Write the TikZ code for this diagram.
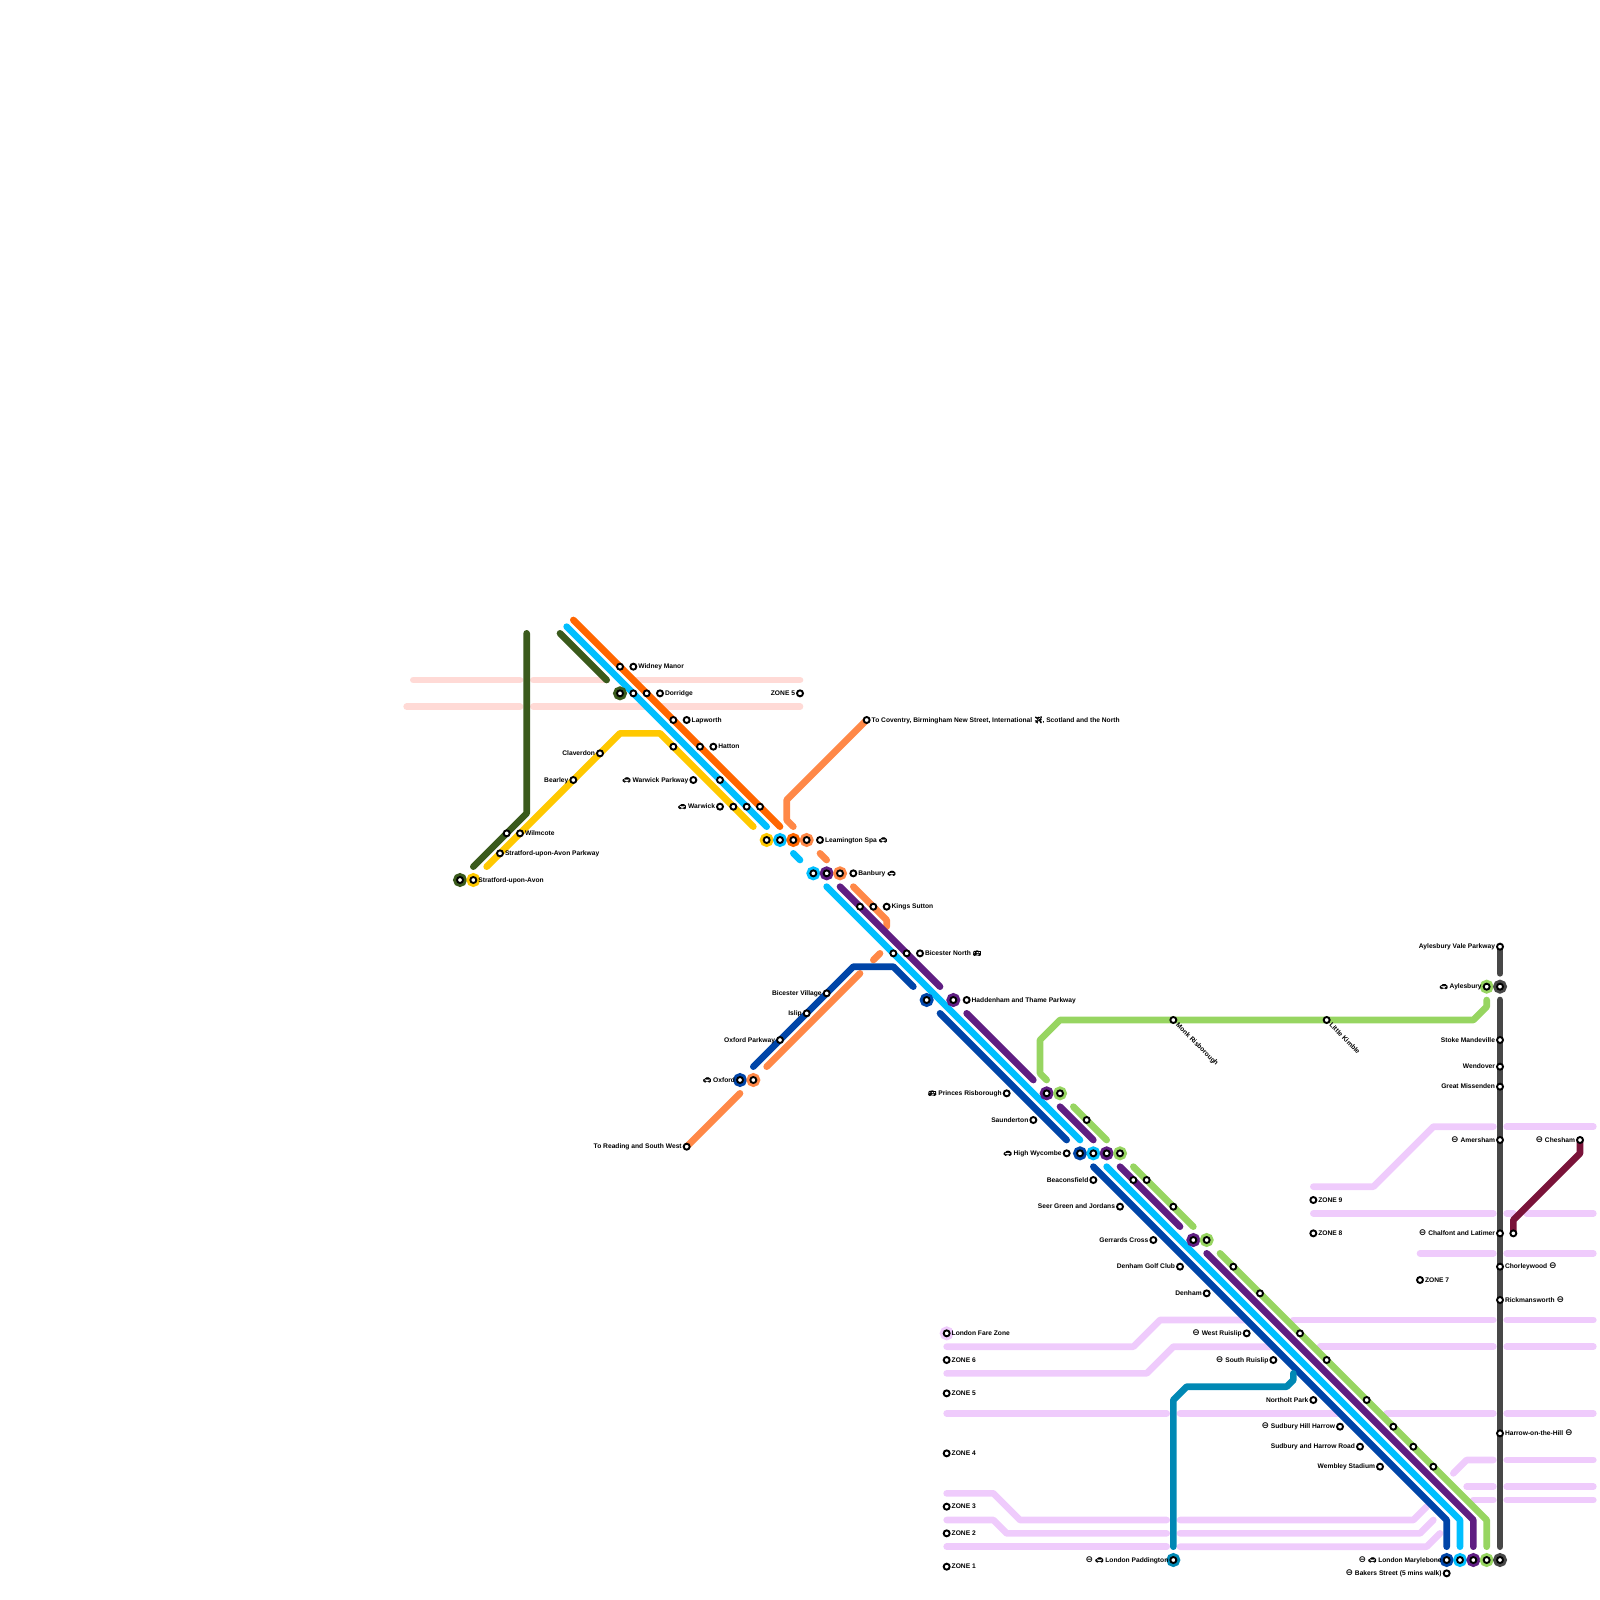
\documentclass[tikz,border=0pt]{standalone}
\usepackage{fontspec}
\setmainfont{Liberation Sans}
\newfontfamily\emojifont[FakeBold=3]{Noto Emoji}
\newfontfamily\symbfont{DejaVu Sans}
\newcommand{\tubeico}{{\fontsize{9}{8}\symbfont\bfseries\symbol{"2296}}}
\newcommand{\carico}{{\emojifont\mdseries\symbol{"1F697}}}
\newcommand{\busico}{{\emojifont\mdseries\symbol{"1F68C}}}
\newcommand{\planeico}{{\emojifont\mdseries\symbol{"2708}}}
\definecolor{zonepink}{HTML}{FFDAD6}
\definecolor{zonelilac}{HTML}{EFCBFC}
\definecolor{chilterngreen}{HTML}{3A5A1C}
\definecolor{solihullred}{HTML}{FF6600}
\definecolor{mainblue}{HTML}{00BFFF}
\definecolor{warwickyellow}{HTML}{FFC800}
\definecolor{crosscoral}{HTML}{FF8847}
\definecolor{wycombepurple}{HTML}{5F1E82}
\definecolor{oxfordblue}{HTML}{0045A8}
\definecolor{aylesburygreen}{HTML}{97D561}
\definecolor{metrogrey}{HTML}{474747}
\definecolor{cheshammaroon}{HTML}{7A1339}
\definecolor{paddingtonteal}{HTML}{0088B4}
\tikzset{
  zoneline/.style={line width=6.67pt,line cap=round,line join=round},
  route/.style={line width=6.67pt,line cap=round,line join=round},
  stn/.style={circle,draw=black,fill=white,line width=1.9pt,minimum size=6pt,inner sep=0pt,outer sep=0pt},
  hub/.style={stn,preaction={draw=#1,line width=7.6pt}},
  lbr/.style={font=\fontsize{6.67}{8}\selectfont\bfseries,inner sep=0pt,anchor=base west,xshift=4.8pt,yshift=-2.2pt},
  lbl/.style={font=\fontsize{6.67}{8}\selectfont\bfseries,inner sep=0pt,anchor=base east,xshift=-4.8pt,yshift=-2.2pt},
  lbd/.style={font=\fontsize{6.67}{8}\selectfont\bfseries,inner sep=0pt,anchor=base west,rotate=-45,xshift=5.5pt,yshift=-2.4pt}
}
\begin{document}
\begin{tikzpicture}[x=6.66667pt,y=-6.66667pt]
 \useasboundingbox (0,0) rectangle (240,240);
 \draw[zoneline,zonepink] (62,102) -- (78,102);
 \draw[zoneline,zonepink] (80,102) -- (91,102);
 \draw[zoneline,zonepink] (95,102) -- (120,102);
 \draw[zoneline,zonepink] (61,106) -- (78,106);
 \draw[zoneline,zonepink] (80,106) -- (97,106);
 \draw[zoneline,zonepink] (99,106) -- (120,106);
 \draw[zoneline,zonelilac] (142,202) -- (170,202) -- (174,198) -- (187,198);
 \draw[zoneline,zonelilac] (194,198) -- (224,198);
 \draw[zoneline,zonelilac] (226,198) -- (239,198);
 \draw[zoneline,zonelilac] (142,206) -- (172,206) -- (176,202) -- (191,202);
 \draw[zoneline,zonelilac] (198,202) -- (224,202);
 \draw[zoneline,zonelilac] (226,202) -- (239,202);
 \draw[zoneline,zonelilac] (142,212) -- (175,212);
 \draw[zoneline,zonelilac] (177,212) -- (201,212);
 \draw[zoneline,zonelilac] (208,212) -- (224,212);
 \draw[zoneline,zonelilac] (226,212) -- (239,212);
 \draw[zoneline,zonelilac] (142,224) -- (149,224) -- (153,228) -- (175,228);
 \draw[zoneline,zonelilac] (177,228) -- (212,228) -- (214,226);
 \draw[zoneline,zonelilac] (142,228) -- (149,228) -- (151,230) -- (175,230);
 \draw[zoneline,zonelilac] (177,230) -- (213,230) -- (215,228);
 \draw[zoneline,zonelilac] (142,232) -- (175,232);
 \draw[zoneline,zonelilac] (177,232) -- (214,232) -- (216,230);
 \draw[zoneline,zonelilac] (197,178) -- (206,178) -- (215,169) -- (224,169);
 \draw[zoneline,zonelilac] (226,169) -- (239,169);
 \draw[zoneline,zonelilac] (197,182) -- (224,182);
 \draw[zoneline,zonelilac] (226,182) -- (227,182);
 \draw[zoneline,zonelilac] (229,182) -- (239,182);
 \draw[zoneline,zonelilac] (213,188) -- (224,188);
 \draw[zoneline,zonelilac] (226,188) -- (239,188);
 \draw[zoneline,zonelilac] (218,221) -- (220,219) -- (224,219);
 \draw[zoneline,zonelilac] (226,219) -- (239,219);
 \draw[zoneline,zonelilac] (220,223) -- (224,223);
 \draw[zoneline,zonelilac] (226,223) -- (239,223);
 \draw[zoneline,zonelilac] (221,225) -- (224,225);
 \draw[zoneline,zonelilac] (226,225) -- (239,225);
 \draw[route,chilterngreen] (79,95) -- (79,122) -- (71,130);
 \draw[route,chilterngreen] (84,95) -- (91,102);
 \draw[route,solihullred] (86,93) -- (117,124);
 \draw[route,mainblue] (85,94) -- (115,124);
 \draw[route,mainblue] (119,128) -- (120,129);
 \draw[route,mainblue] (124,133) -- (162,171);
 \draw[route,mainblue] (166,175) -- (219,228) -- (219,232);
 \draw[route,warwickyellow] (73,130) -- (93,110) -- (99,110) -- (113,124);
 \draw[route,crosscoral] (130,108) -- (118,120) -- (118,123) -- (119,124);
 \draw[route,crosscoral] (123,128) -- (124,129);
 \draw[route,crosscoral] (128,133) -- (133,138) -- (133,139);
 \draw[route,crosscoral] (131,144) -- (132,143);
 \draw[route,crosscoral] (115,160) -- (129,146);
 \draw[route,crosscoral] (103,172) -- (111,164);
 \draw[route,oxfordblue] (113,160) -- (128,145) -- (134,145) -- (137,148);
 \draw[route,oxfordblue] (141,152) -- (160,171);
 \draw[route,oxfordblue] (164,175) -- (217,228) -- (217,232);
 \draw[route,wycombepurple] (126,133) -- (141,148);
 \draw[route,wycombepurple] (145,152) -- (155,162);
 \draw[route,wycombepurple] (159,166) -- (164,171);
 \draw[route,wycombepurple] (168,175) -- (177,184);
 \draw[route,wycombepurple] (181,188) -- (221,228) -- (221,232);
 \draw[route,aylesburygreen] (157,162) -- (156,161) -- (156,156) -- (159,153) -- (221,153) -- (223,151) -- (223,150);
 \draw[route,aylesburygreen] (161,166) -- (166,171);
 \draw[route,aylesburygreen] (170,175) -- (179,184);
 \draw[route,aylesburygreen] (183,188) -- (223,228) -- (223,232);
 \draw[route,metrogrey] (225,142) -- (225,146);
 \draw[route,metrogrey] (225,150) -- (225,232);
 \draw[route,cheshammaroon] (237,171) -- (237,173) -- (227,183) -- (227,185);
 \draw[route,paddingtonteal] (194,206) -- (194,207) -- (193,208) -- (178,208) -- (176,210) -- (176,232);
 \node[stn] (widneyo) at (93,100) {};
 \node[stn] (widney) at (95,100) {};
 \node[hub=chilterngreen] (dorridgeg) at (93,104) {};
 \node[stn] (dorridgec) at (95,104) {};
 \node[stn] (dorridgeo) at (97,104) {};
 \node[stn] (dorridge) at (99,104) {};
 \node[stn] (zonefivenorth) at (120,104) {};
 \node[stn] (lapwortho) at (101,108) {};
 \node[stn] (lapworth) at (103,108) {};
 \node[stn] (hattony) at (101,112) {};
 \node[stn] (hattono) at (105,112) {};
 \node[stn] (hatton) at (107,112) {};
 \node[stn] (claverdon) at (90,113) {};
 \node[stn] (bearley) at (86,117) {};
 \node[stn] (warparkway) at (104,117) {};
 \node[stn] (warparkwayc) at (108,117) {};
 \node[stn] (warwick) at (108,121) {};
 \node[stn] (warwicky) at (110,121) {};
 \node[stn] (warwickc) at (112,121) {};
 \node[stn] (warwicko) at (114,121) {};
 \node[stn] (wilmcoteg) at (76,125) {};
 \node[stn] (wilmcote) at (78,125) {};
 \node[stn] (stratparkway) at (75,128) {};
 \node[hub=chilterngreen] (stratfordg) at (69,132) {};
 \node[hub=warwickyellow] (stratford) at (71,132) {};
 \node[hub=warwickyellow] (leamy) at (115,126) {};
 \node[hub=mainblue] (leamc) at (117,126) {};
 \node[hub=solihullred] (leamo) at (119,126) {};
 \node[hub=crosscoral] (leamr) at (121,126) {};
 \node[stn] (leamington) at (123,126) {};
 \node[stn] (coventry) at (130,108) {};
 \node[hub=mainblue] (banburyc) at (122,131) {};
 \node[hub=wycombepurple] (banburyp) at (124,131) {};
 \node[hub=crosscoral] (banburyr) at (126,131) {};
 \node[stn] (banbury) at (128,131) {};
 \node[stn] (kingsc) at (129,136) {};
 \node[stn] (kingsp) at (131,136) {};
 \node[stn] (kings) at (133,136) {};
 \node[stn] (bicesterc) at (134,143) {};
 \node[stn] (bicesterp) at (136,143) {};
 \node[stn] (bicester) at (138,143) {};
 \node[stn] (village) at (124,149) {};
 \node[stn] (islip) at (121,152) {};
 \node[stn] (oxparkway) at (117,156) {};
 \node[hub=oxfordblue] (oxford) at (111,162) {};
 \node[hub=crosscoral] (oxfordr) at (113,162) {};
 \node[stn] (reading) at (103,172) {};
 \node[hub=oxfordblue] (haddenb) at (139,150) {};
 \node[hub=wycombepurple] (haddenp) at (143,150) {};
 \node[stn] (hadden) at (145,150) {};
 \node[stn] (princes) at (151,164) {};
 \node[hub=wycombepurple] (princesp) at (157,164) {};
 \node[hub=aylesburygreen] (princesg) at (159,164) {};
 \node[stn] (saunderton) at (155,168) {};
 \node[stn] (saundertong) at (163,168) {};
 \node[stn] (wycombe) at (160,173) {};
 \node[hub=oxfordblue] (wycombeb) at (162,173) {};
 \node[hub=mainblue] (wycombec) at (164,173) {};
 \node[hub=wycombepurple] (wycombep) at (166,173) {};
 \node[hub=aylesburygreen] (wycombeg) at (168,173) {};
 \node[stn] (beacons) at (164,177) {};
 \node[stn] (beaconsp) at (170,177) {};
 \node[stn] (beaconsg) at (172,177) {};
 \node[stn] (seer) at (168,181) {};
 \node[stn] (seerg) at (176,181) {};
 \node[stn] (gerrards) at (173,186) {};
 \node[hub=wycombepurple] (gerrardsp) at (179,186) {};
 \node[hub=aylesburygreen] (gerrardsg) at (181,186) {};
 \node[stn] (golfclub) at (177,190) {};
 \node[stn] (golfclubg) at (185,190) {};
 \node[stn] (denham) at (181,194) {};
 \node[stn] (denhamg) at (189,194) {};
 \node[stn] (monks) at (176,153) {};
 \node[stn] (kimble) at (199,153) {};
 \node[stn] (valeparkway) at (225,142) {};
 \node[hub=aylesburygreen] (aylesbury) at (223,148) {};
 \node[hub=metrogrey] (aylesburym) at (225,148) {};
 \node[stn] (stoke) at (225,156) {};
 \node[stn] (wendover) at (225,160) {};
 \node[stn] (missenden) at (225,163) {};
 \node[stn] (amersham) at (225,171) {};
 \node[stn] (chesham) at (237,171) {};
 \node[stn] (chalfont) at (225,185) {};
 \node[stn] (chalfontm) at (227,185) {};
 \node[stn] (chorleywood) at (225,190) {};
 \node[stn] (rickmansworth) at (225,195) {};
 \node[stn] (harrow) at (225,215) {};
 \node[stn] (zonenine) at (197,180) {};
 \node[stn] (zoneeight) at (197,185) {};
 \node[stn] (zoneseven) at (213,192) {};
 \node[hub=zonelilac] (farezone) at (142,200) {};
 \node[stn] (zonesix) at (142,204) {};
 \node[stn] (zonefive) at (142,209) {};
 \node[stn] (zonefour) at (142,218) {};
 \node[stn] (zonethree) at (142,226) {};
 \node[stn] (zonetwo) at (142,230) {};
 \node[stn] (zoneone) at (142,235) {};
 \node[stn] (ruislip) at (187,200) {};
 \node[stn] (ruislipg) at (195,200) {};
 \node[stn] (sruislip) at (191,204) {};
 \node[stn] (sruislipg) at (199,204) {};
 \node[stn] (northolt) at (197,210) {};
 \node[stn] (northoltg) at (205,210) {};
 \node[stn] (sudhill) at (201,214) {};
 \node[stn] (sudhillg) at (209,214) {};
 \node[stn] (sudroad) at (204,217) {};
 \node[stn] (sudroadg) at (212,217) {};
 \node[stn] (wembley) at (207,220) {};
 \node[stn] (wembleyg) at (215,220) {};
 \node[hub=paddingtonteal] (paddington) at (176,234) {};
 \node[hub=oxfordblue] (marylebone) at (217,234) {};
 \node[hub=mainblue] (maryc) at (219,234) {};
 \node[hub=wycombepurple] (maryp) at (221,234) {};
 \node[hub=aylesburygreen] (maryg) at (223,234) {};
 \node[hub=metrogrey] (marym) at (225,234) {};
 \node[stn] (bakers) at (217,236) {};
 \node[lbr] (widneyT) at (widney) {Widney Manor};
 \node[lbr] (dorridgeT) at (dorridge) {Dorridge};
 \node[lbl] (zonefivenorthT) at (zonefivenorth) {ZONE 5};
 \node[lbr] (lapworthT) at (lapworth) {Lapworth};
 \node[lbr] (hattonT) at (hatton) {Hatton};
 \node[lbl] (claverdonT) at (claverdon) {Claverdon};
 \node[lbl] (bearleyT) at (bearley) {Bearley};
 \node[lbl] (warparkwayT) at (warparkway) {\carico{} Warwick Parkway};
 \node[lbl] (warwickT) at (warwick) {\carico{} Warwick};
 \node[lbr] (wilmcoteT) at (wilmcote) {Wilmcote};
 \node[lbr] (stratparkwayT) at (stratparkway) {Stratford-upon-Avon Parkway};
 \node[lbr] (stratfordT) at (stratford) {Stratford-upon-Avon};
 \node[lbr] (leamingtonT) at (leamington) {Leamington Spa \carico};
 \node[lbr] (coventryT) at (coventry) {To Coventry, Birmingham New Street, International \planeico, Scotland and the North};
 \node[lbr] (banburyT) at (banbury) {Banbury \carico};
 \node[lbr] (kingsT) at (kings) {Kings Sutton};
 \node[lbr] (bicesterT) at (bicester) {Bicester North \busico};
 \node[lbl] (villageT) at (village) {Bicester Village};
 \node[lbl] (islipT) at (islip) {Islip};
 \node[lbl] (oxparkwayT) at (oxparkway) {Oxford Parkway};
 \node[lbl] (oxfordT) at (oxford) {\carico{} Oxford};
 \node[lbl] (readingT) at (reading) {To Reading and South West};
 \node[lbr] (haddenT) at (hadden) {Haddenham and Thame Parkway};
 \node[lbl] (princesT) at (princes) {\busico{} Princes Risborough};
 \node[lbl] (saundertonT) at (saunderton) {Saunderton};
 \node[lbl] (wycombeT) at (wycombe) {\carico{} High Wycombe};
 \node[lbl] (beaconsT) at (beacons) {Beaconsfield};
 \node[lbl] (seerT) at (seer) {Seer Green and Jordans};
 \node[lbl] (gerrardsT) at (gerrards) {Gerrards Cross};
 \node[lbl] (golfclubT) at (golfclub) {Denham Golf Club};
 \node[lbl] (denhamT) at (denham) {Denham};
 \node[lbd] (monksT) at (monks) {Monk Risborough};
 \node[lbd] (kimbleT) at (kimble) {Little Kimble};
 \node[lbl] (valeparkwayT) at (valeparkway) {Aylesbury Vale Parkway};
 \node[lbl] (aylesburyT) at (aylesbury) {\carico{} Aylesbury};
 \node[lbl] (stokeT) at (stoke) {Stoke Mandeville};
 \node[lbl] (wendoverT) at (wendover) {Wendover};
 \node[lbl] (missendenT) at (missenden) {Great Missenden};
 \node[lbl] (amershamT) at (amersham) {\tubeico{} Amersham};
 \node[lbl] (cheshamT) at (chesham) {\tubeico{} Chesham};
 \node[lbl] (chalfontT) at (chalfont) {\tubeico{} Chalfont and Latimer};
 \node[lbr] (chorleywoodT) at (chorleywood) {Chorleywood \tubeico};
 \node[lbr] (rickmansworthT) at (rickmansworth) {Rickmansworth \tubeico};
 \node[lbr] (harrowT) at (harrow) {Harrow-on-the-Hill \tubeico};
 \node[lbr] (zonenineT) at (zonenine) {ZONE 9};
 \node[lbr] (zoneeightT) at (zoneeight) {ZONE 8};
 \node[lbr] (zonesevenT) at (zoneseven) {ZONE 7};
 \node[lbr] (farezoneT) at (farezone) {London Fare Zone};
 \node[lbr] (zonesixT) at (zonesix) {ZONE 6};
 \node[lbr] (zonefiveT) at (zonefive) {ZONE 5};
 \node[lbr] (zonefourT) at (zonefour) {ZONE 4};
 \node[lbr] (zonethreeT) at (zonethree) {ZONE 3};
 \node[lbr] (zonetwoT) at (zonetwo) {ZONE 2};
 \node[lbr] (zoneoneT) at (zoneone) {ZONE 1};
 \node[lbl] (ruislipT) at (ruislip) {\tubeico{} West Ruislip};
 \node[lbl] (sruislipT) at (sruislip) {\tubeico{} South Ruislip};
 \node[lbl] (northoltT) at (northolt) {Northolt Park};
 \node[lbl] (sudhillT) at (sudhill) {\tubeico{} Sudbury Hill Harrow};
 \node[lbl] (sudroadT) at (sudroad) {Sudbury and Harrow Road};
 \node[lbl] (wembleyT) at (wembley) {Wembley Stadium};
 \node[lbl] (paddingtonT) at (paddington) {\tubeico{} \carico{} London Paddington};
 \node[lbl] (maryleboneT) at (marylebone) {\tubeico{} \carico{} London Marylebone};
 \node[lbl] (bakersT) at (bakers) {\tubeico{} Bakers Street (5 mins walk)};
\end{tikzpicture}
\end{document}
